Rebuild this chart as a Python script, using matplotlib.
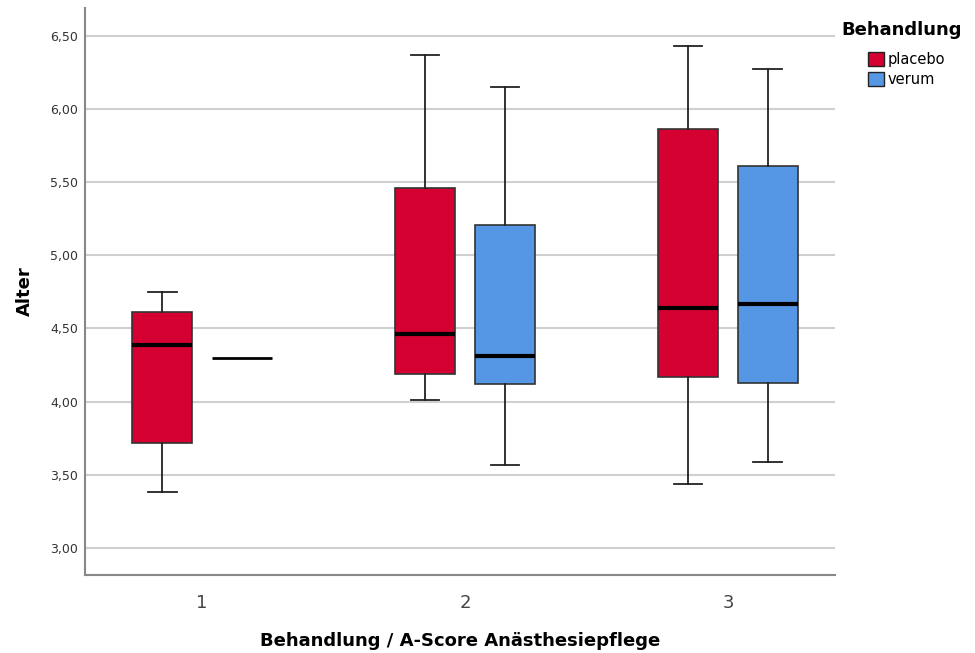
import matplotlib
matplotlib.use('Agg')
import matplotlib.pyplot as plt
from matplotlib.patches import Patch

# boxplot values (Alter by A-Score group and Behandlung)
groups = [1, 2, 3]
treatments = ['placebo', 'verum']
colors = {'placebo': '#D50032', 'verum': '#5596E5'}

placebo_lo = [3.38, 4.01, 3.44]
placebo_q1 = [3.72, 4.19, 4.17]
placebo_med = [4.39, 4.46, 4.64]
placebo_q3 = [4.61, 5.46, 5.86]
placebo_hi = [4.75, 6.37, 6.43]

verum_lo = [4.30, 3.57, 3.59]
verum_q1 = [4.30, 4.12, 4.13]
verum_med = [4.30, 4.31, 4.67]
verum_q3 = [4.30, 5.21, 5.61]
verum_hi = [4.30, 6.15, 6.27]

yticks = [3.0, 3.5, 4.0, 4.5, 5.0, 5.5, 6.0, 6.5]

fig = plt.figure(figsize=(9.75, 6.53), dpi=100)
ax = fig.add_axes([0.0872, 0.1194, 0.7692, 0.8683])

offset = 0.152
width = 0.225

def make_stats(lo, q1, med, q3, hi):
    return [dict(whislo=a, q1=b, med=c, q3=d, whishi=e, fliers=[])
            for a, b, c, d, e in zip(lo, q1, med, q3, hi)]

data = {
    'placebo': make_stats(placebo_lo, placebo_q1, placebo_med, placebo_q3, placebo_hi),
    'verum': make_stats(verum_lo, verum_q1, verum_med, verum_q3, verum_hi),
}

for k, t in enumerate(treatments):
    sgn = -1 if k == 0 else 1
    for g, st in zip(groups, data[t]):
        pos = g + sgn * offset
        if st['q1'] == st['q3']:
            # only one case: SPSS draws just a line
            ax.hlines(st['med'], pos - width / 2, pos + width / 2, color='black', lw=2, zorder=3)
            continue
        ax.bxp([st], positions=[pos], widths=width, patch_artist=True,
               showfliers=False, manage_ticks=False,
               boxprops=dict(facecolor=colors[t], edgecolor='#333333', lw=1.2),
               medianprops=dict(color='black', lw=3),
               whiskerprops=dict(color='#222222', lw=1.3),
               capprops=dict(color='#222222', lw=1.3),
               capwidths=0.11, zorder=3)

ax.set_xlim(0.555, 3.407)
ax.set_ylim(2.815, 6.69)
ax.set_yticks(yticks)
ax.set_yticklabels([('%.2f' % v).replace('.', ',') for v in yticks], fontsize=9, color='#333333')
ax.set_xticks(groups)
ax.set_xticklabels([str(g) for g in groups], fontsize=13, color='#444444')
ax.tick_params(axis='both', length=0)
ax.tick_params(axis='x', pad=14)
ax.tick_params(axis='y', pad=5)
ax.grid(axis='y', color='#d0d0d0', lw=1.5, zorder=0)
ax.set_axisbelow(True)

for s in ['top', 'right']:
    ax.spines[s].set_visible(False)
for s in ['left', 'bottom']:
    ax.spines[s].set_color('#888888')
    ax.spines[s].set_linewidth(1.5)

ax.set_ylabel('Alter', fontsize=13, fontweight='bold', labelpad=12)
ax.set_xlabel('Behandlung / A-Score Anästhesiepflege', fontsize=13, fontweight='bold', labelpad=14)

fig.text(841 / 975, 1 - 30 / 653, 'Behandlung', fontsize=13, fontweight='bold', va='center', ha='left')
handles = [Patch(facecolor=colors[t], edgecolor='#222222', label=t) for t in treatments]
fig.legend(handles=handles, loc='upper left', bbox_to_anchor=(868 / 975, 1 - 52 / 653),
           frameon=False, fontsize=10.5, borderpad=0, borderaxespad=0,
           handlelength=1.1, handleheight=1.1, handletextpad=0.25,
           labelspacing=0.35)

fig.savefig('out.png', dpi=100)
